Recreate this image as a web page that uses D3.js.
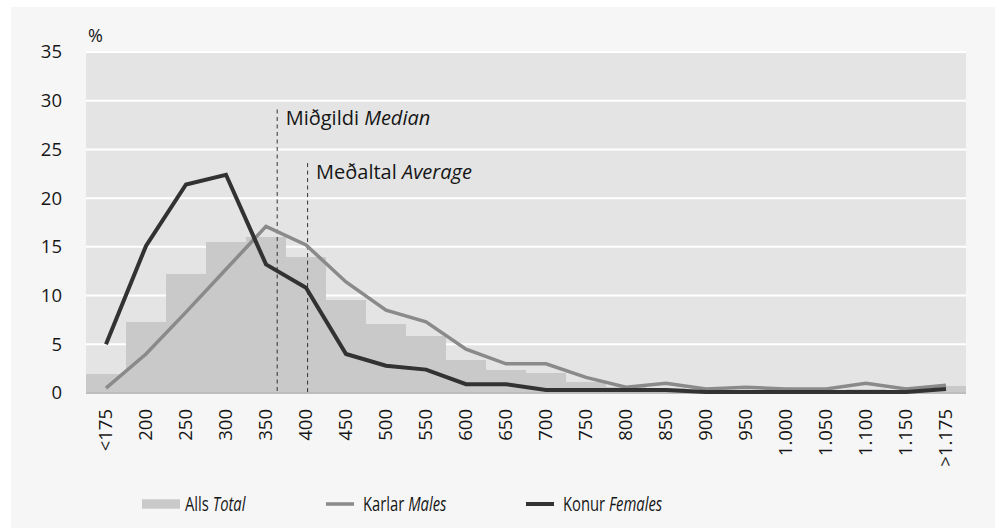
<!DOCTYPE html>
<html>
<head>
<meta charset="utf-8">
<script src="https://cdn.jsdelivr.net/npm/d3@7"></script>
<style>
  html, body { margin: 0; padding: 0; background: #ffffff; }
  svg { display: block; font-family: "Open Sans", "Noto Sans", sans-serif; }
</style>
</head>
<body>
<svg id="chart" width="995" height="528"></svg>
<script>
// ---- data ----
const categories = ["<175","200","250","300","350","400","450","500","550","600","650","700","750","800","850","900","950","1.000","1.050","1.100","1.150",">1.175"];
const total   = [2.0, 7.3, 12.2, 15.5, 16.0, 14.0, 9.5, 7.1, 5.9, 3.4, 2.4, 2.1, 1.1, 0.6, 0.5, 0.3, 0.3, 0.3, 0.3, 0.4, 0.3, 0.7];
const males   = [0.5, 4.0, 8.3, 12.7, 17.1, 15.2, 11.4, 8.5, 7.3, 4.5, 3.0, 3.0, 1.6, 0.6, 1.0, 0.4, 0.6, 0.4, 0.4, 1.0, 0.4, 0.8];
const females = [5.0, 15.1, 21.4, 22.4, 13.2, 10.8, 4.0, 2.8, 2.4, 0.9, 0.9, 0.3, 0.3, 0.3, 0.3, 0.1, 0.1, 0.1, 0.1, 0.1, 0.1, 0.4];
const yTicks = [0, 5, 10, 15, 20, 25, 30, 35];
const catValues = [150, 200, 250, 300, 350, 400, 450]; // numeric values of the first category centres (for placing median/average)
const medianValue = 364, medianTop = 29.1, medianLabel = ["Miðgildi", "Median"];
const averageValue = 402, averageTop = 23.6, averageLabel = ["Meðaltal", "Average"];
const legendItems = [
  {type: "bar", name: "Alls", en: "Total"},
  {type: "male", name: "Karlar", en: "Males"},
  {type: "female", name: "Konur", en: "Females"}
];
const unitLabel = "%";

// ---- styles ----
const C = {
  bg: "#f6f6f6", plot: "#e4e4e4", grid: "#ffffff", bar: "#c9c9c9",
  male: "#8a8a8a", female: "#323232", text: "#161616", base: "#bdbdbd"
};

const svg = d3.select("#chart");
const M = {left: 86, right: 966, top: 52, bottom: 393};

svg.append("rect").attr("x", 11).attr("y", 7).attr("width", 995 - 11).attr("height", 528 - 7).attr("fill", C.bg);
svg.append("rect").attr("x", M.left).attr("y", M.top).attr("width", M.right - M.left).attr("height", M.bottom - M.top).attr("fill", C.plot);

const x = d3.scaleBand().domain(categories).range([M.left, M.right]).padding(0);
const y = d3.scaleLinear().domain([0, 35]).range([M.bottom, M.top]);
const cx = d => x(d) + x.bandwidth() / 2;
const xv = d3.scaleLinear().domain([catValues[0], catValues[catValues.length - 1]])
  .range([cx(categories[0]), cx(categories[catValues.length - 1])]);

// grid
svg.append("g").selectAll("line").data(yTicks.filter(t => t > 0)).join("line")
  .attr("x1", M.left).attr("x2", M.right)
  .attr("y1", d => y(d)).attr("y2", d => y(d))
  .attr("stroke", C.grid).attr("stroke-width", 2);

// bars
svg.append("g").selectAll("rect").data(categories).join("rect")
  .attr("x", d => x(d)).attr("width", x.bandwidth())
  .attr("y", (d, i) => y(total[i])).attr("height", (d, i) => y(0) - y(total[i]))
  .attr("fill", C.bar).attr("shape-rendering", "crispEdges");

// baseline
svg.append("line").attr("x1", M.left).attr("x2", M.right).attr("y1", y(0)).attr("y2", y(0))
  .attr("stroke", C.base).attr("stroke-width", 2);

// reference lines
function refLine(v, top, label) {
  const px = xv(v);
  svg.append("line").attr("x1", px).attr("x2", px).attr("y1", y(top)).attr("y2", y(0))
    .attr("stroke", "#333").attr("stroke-width", 1).attr("stroke-dasharray", "4,3.5");
  const t = svg.append("text").attr("x", px + 8.5).attr("y", y(top) + 16)
    .attr("font-size", 20).attr("fill", C.text);
  t.append("tspan").text(label[0] + " ");
  t.append("tspan").attr("font-style", "italic").text(label[1]);
}
refLine(medianValue, medianTop, medianLabel);
refLine(averageValue, averageTop, averageLabel);

// lines
const line = d3.line().x((d, i) => cx(categories[i])).y(d => y(d));
svg.append("path").datum(males).attr("d", line).attr("fill", "none")
  .attr("stroke", C.male).attr("stroke-width", 3.5).attr("stroke-linejoin", "miter");
svg.append("path").datum(females).attr("d", line).attr("fill", "none")
  .attr("stroke", C.female).attr("stroke-width", 4).attr("stroke-linejoin", "miter");

// y axis
const yAxis = svg.append("g").attr("transform", `translate(${M.left},0)`)
  .call(d3.axisLeft(y).tickValues(yTicks).tickSize(0).tickPadding(24));
yAxis.select(".domain").remove();
yAxis.selectAll("text").attr("font-size", 18.5).attr("fill", C.text).attr("font-family", "Open Sans, sans-serif");

// x axis
const xAxis = svg.append("g").attr("transform", `translate(0,${M.bottom})`)
  .call(d3.axisBottom(x).tickSize(0));
xAxis.select(".domain").remove();
xAxis.selectAll("text")
  .attr("transform", "rotate(-90)")
  .attr("x", -16).attr("y", 0).attr("dy", "0.35em")
  .attr("text-anchor", "end")
  .attr("font-size", 18.5).attr("fill", C.text).attr("font-family", "Open Sans, sans-serif");

// unit label
svg.append("text").attr("x", 88).attr("y", 42).attr("font-size", 18).attr("fill", C.text).text(unitLabel);

// legend
const legendX = [142, 326, 526];
const lg = svg.append("g").selectAll("g").data(legendItems).join("g")
  .attr("transform", (d, i) => `translate(${legendX[i]},504)`);
lg.each(function(d) {
  const g = d3.select(this);
  if (d.type === "bar") {
    g.append("rect").attr("x", 0).attr("y", -4.7).attr("width", 38).attr("height", 9.4).attr("fill", C.bar);
  } else {
    g.append("line").attr("x1", 0).attr("x2", 28).attr("y1", 0).attr("y2", 0)
      .attr("stroke", d.type === "male" ? C.male : C.female).attr("stroke-width", d.type === "male" ? 3.5 : 4);
  }
  const tx = d.type === "bar" ? 43 : 37;
  const t = g.append("text").attr("transform", `translate(${tx},7) scale(0.76,1)`)
    .attr("font-size", 19.5).attr("fill", C.text);
  t.append("tspan").text(d.name + " ");
  t.append("tspan").attr("font-style", "italic").text(d.en);
});
</script>
</body>
</html>
